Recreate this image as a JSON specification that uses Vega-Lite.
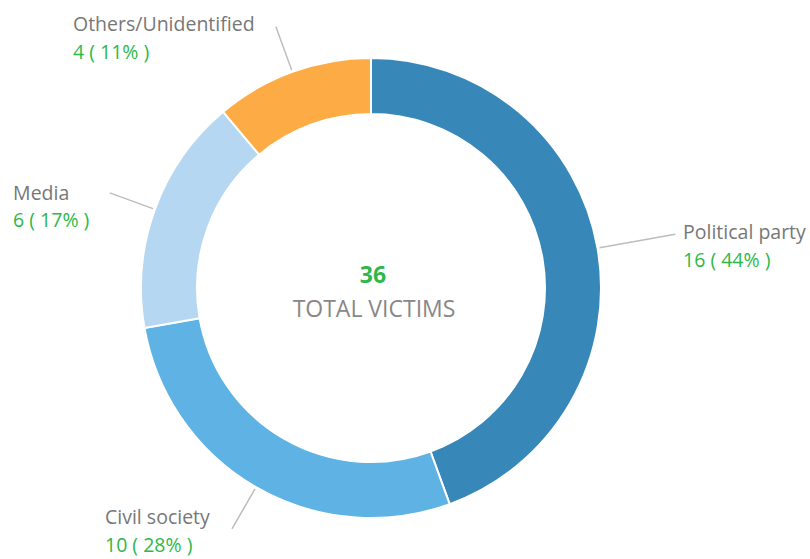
{
  "$schema": "https://vega.github.io/schema/vega-lite/v6.json",
  "width": 742,
  "height": 542,
  "autosize": {"type": "none"},
  "padding": {"left": 0, "top": 17, "right": 68, "bottom": 0},
  "background": "#ffffff",
  "config": {"view": {"stroke": null}},
  "data": {
    "values": [
      {"category": "Political party", "victims": 16, "share": "16 ( 44% )"},
      {"category": "Civil society", "victims": 10, "share": "10 ( 28% )"},
      {"category": "Media", "victims": 6, "share": "6 ( 17% )"},
      {"category": "Others/Unidentified", "victims": 4, "share": "4 ( 11% )"}
    ]
  },
  "encoding": {
    "theta": {"field": "victims", "type": "quantitative", "stack": true},
    "order": {"field": "victims", "sort": "descending"}
  },
  "layer": [
    {
      "mark": {"type": "arc", "outerRadius": 230, "innerRadius": 174, "stroke": "#ffffff", "strokeWidth": 2},
      "encoding": {
        "color": {
          "field": "category", "type": "nominal", "legend": null,
          "scale": {
            "domain": ["Political party", "Civil society", "Media", "Others/Unidentified"],
            "range": ["#3787b9", "#5eb3e4", "#b6d7f2", "#fdac45"]
          }
        }
      }
    },
    {
      "mark": {"type": "arc", "innerRadius": 232, "outerRadius": 278, "padAngle": 3, "fillOpacity": 0, "fill": "#ffffff", "stroke": "#bdbdbd", "strokeWidth": 1.5},
      "encoding": {
        "strokeOpacity": {"condition": {"test": "datum.category === 'Political party'", "value": 0}, "value": 1}
      }
    },
    {
      "mark": {"type": "arc", "innerRadius": 232, "outerRadius": 309, "padAngle": 3, "fillOpacity": 0, "fill": "#ffffff", "stroke": "#bdbdbd", "strokeWidth": 1.5},
      "encoding": {
        "strokeOpacity": {"condition": {"test": "datum.category === 'Political party'", "value": 1}, "value": 0}
      }
    },
    {
      "mark": {"type": "text", "radius": 300, "align": "left", "baseline": "alphabetic", "dx": 16.6, "dy": 3, "font": "Open Sans", "fontSize": 19.5, "fill": "#777777"},
      "encoding": {"text": {"condition": {"test": "datum.category === 'Political party'", "field": "category"}, "value": ""}}
    },
    {
      "mark": {"type": "text", "radius": 300, "align": "left", "baseline": "alphabetic", "dx": 16.6, "dy": 31, "font": "Open Sans", "fontSize": 19.5, "fill": "#2eb84a"},
      "encoding": {"text": {"condition": {"test": "datum.category === 'Political party'", "field": "share"}, "value": ""}}
    },
    {
      "mark": {"type": "text", "radius": 300, "align": "left", "baseline": "alphabetic", "dx": -116, "dy": -24, "font": "Open Sans", "fontSize": 19.5, "fill": "#777777"},
      "encoding": {"text": {"condition": {"test": "datum.category === 'Civil society'", "field": "category"}, "value": ""}}
    },
    {
      "mark": {"type": "text", "radius": 300, "align": "left", "baseline": "alphabetic", "dx": -116, "dy": 4, "font": "Open Sans", "fontSize": 19.5, "fill": "#2eb84a"},
      "encoding": {"text": {"condition": {"test": "datum.category === 'Civil society'", "field": "share"}, "value": ""}}
    },
    {
      "mark": {"type": "text", "radius": 300, "align": "left", "baseline": "alphabetic", "dx": -76, "dy": 14.6, "font": "Open Sans", "fontSize": 19.5, "fill": "#777777"},
      "encoding": {"text": {"condition": {"test": "datum.category === 'Media'", "field": "category"}, "value": ""}}
    },
    {
      "mark": {"type": "text", "radius": 300, "align": "left", "baseline": "alphabetic", "dx": -76, "dy": 41.6, "font": "Open Sans", "fontSize": 19.5, "fill": "#2eb84a"},
      "encoding": {"text": {"condition": {"test": "datum.category === 'Media'", "field": "share"}, "value": ""}}
    },
    {
      "mark": {"type": "text", "radius": 300, "align": "left", "baseline": "alphabetic", "dx": -195.4, "dy": 25, "font": "Open Sans", "fontSize": 19.5, "fill": "#777777"},
      "encoding": {"text": {"condition": {"test": "datum.category === 'Others/Unidentified'", "field": "category"}, "value": ""}}
    },
    {
      "mark": {"type": "text", "radius": 300, "align": "left", "baseline": "alphabetic", "dx": -195.4, "dy": 53, "font": "Open Sans", "fontSize": 19.5, "fill": "#2eb84a"},
      "encoding": {"text": {"condition": {"test": "datum.category === 'Others/Unidentified'", "field": "share"}, "value": ""}}
    },
    {
      "transform": [{"aggregate": [{"op": "sum", "field": "victims", "as": "total"}]}],
      "mark": {"type": "text", "align": "center", "baseline": "alphabetic", "dx": 2, "dy": -5, "font": "Open Sans", "fontSize": 23, "fontWeight": "bold", "fill": "#2eb84a"},
      "encoding": {"theta": null, "order": null, "text": {"field": "total", "type": "quantitative"}}
    },
    {
      "transform": [{"aggregate": [{"op": "sum", "field": "victims", "as": "total"}]}],
      "mark": {"type": "text", "align": "center", "baseline": "alphabetic", "dx": 3, "dy": 29, "font": "Open Sans", "fontSize": 23, "fill": "#888888"},
      "encoding": {"theta": null, "order": null, "text": {"value": "TOTAL VICTIMS"}}
    }
  ]
}
